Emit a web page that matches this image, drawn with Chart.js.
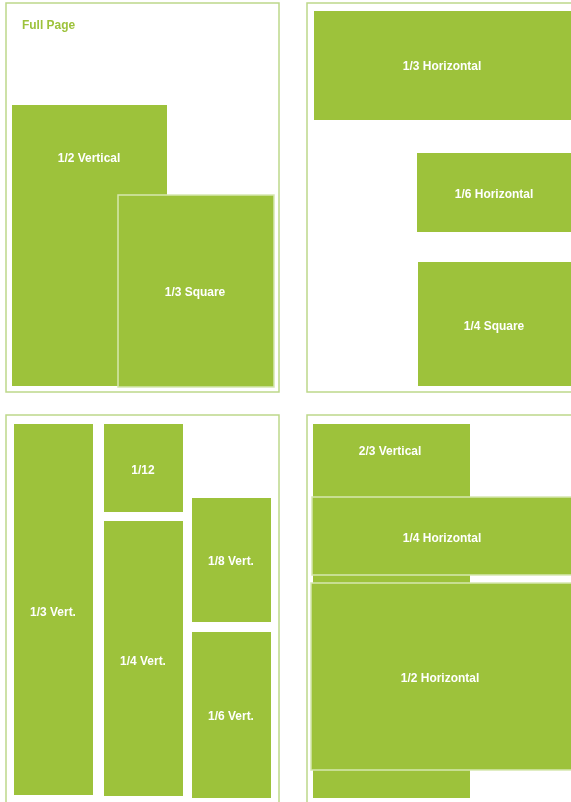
<!DOCTYPE html>
<html>
<head>
  <title>index</title>
  <script src="https://cdn.jsdelivr.net/npm/chart.js"></script>
  <style>
    html, body { margin: 0; padding: 0; background: #ffffff; overflow: hidden; }
    #chart { display: block; }
  </style>
</head>
<body>
  <canvas id="chart" width="571" height="802"></canvas>

  <script>
    // four page frames (left, right, top, bottom) in sheet units
    const pageLeft   = [6, 307, 6, 307];
    const pageRight  = [279, 620, 279, 620];
    const pageTop    = [3, 3, 415, 415];
    const pageBottom = [392, 392, 840, 840];

    // ad units, in drawing order
    const adLabels = ['1/2 Vertical', '1/3 Square', '1/3 Horizontal', '1/6 Horizontal', '1/4 Square',
                      '1/3 Vert.', '1/12', '1/4 Vert.', '1/8 Vert.', '1/6 Vert.',
                      '2/3 Vertical', '1/4 Horizontal', '1/2 Horizontal'];
    const adLeft   = [12, 118, 314, 417, 418, 14, 104, 104, 192, 192, 313, 312, 311];
    const adRight  = [167, 274, 580, 580, 580, 93, 183, 183, 271, 271, 470, 580, 580];
    const adTop    = [105, 195, 11, 153, 262, 424, 424, 521, 498, 632, 424, 497, 583];
    const adBottom = [386, 387, 120, 232, 386, 795, 512, 796, 622, 798, 798, 575, 770];
    const labelX   = [89, 195, 442, 494, 494, 53, 143, 143, 231, 231, 390, 442, 440];
    const labelY   = [157, 291, 65, 193, 325, 611, 469, 660, 560, 715, 450, 537, 677];

    const outlined = ['1/3 Square', '1/4 Horizontal', '1/2 Horizontal'];

    const green = '#9dc23b';
    const labelFont = 'bold 13px "Liberation Sans", Arial, sans-serif';

    // condensed bold text: draw with a slight horizontal squeeze
    function drawLabel(ctx, text, px, py, align) {
      ctx.save();
      ctx.translate(px, py);
      ctx.scale(0.92, 1);
      ctx.font = labelFont;
      ctx.textAlign = align;
      ctx.textBaseline = 'middle';
      ctx.fillText(text, 0, 1.5);
      ctx.restore();
    }

    const adPlugin = {
      id: 'adUnits',
      afterDatasetsDraw(chart) {
        const { ctx, scales: { x, y } } = chart;
        ctx.save();

        // page frames
        ctx.strokeStyle = '#bdd88a';
        ctx.lineWidth = 1.5;
        pageLeft.forEach((l, i) => {
          const x0 = x.getPixelForValue(l), x1 = x.getPixelForValue(pageRight[i]);
          const y0 = y.getPixelForValue(pageTop[i]), y1 = y.getPixelForValue(pageBottom[i]);
          ctx.strokeRect(x0, y0, x1 - x0, y1 - y0);
        });

        // ad blocks
        adLabels.forEach((label, i) => {
          const x0 = x.getPixelForValue(adLeft[i]), x1 = x.getPixelForValue(adRight[i]);
          const y0 = y.getPixelForValue(adTop[i]), y1 = y.getPixelForValue(adBottom[i]);
          ctx.fillStyle = green;
          ctx.fillRect(x0, y0, x1 - x0, y1 - y0);
          if (outlined.includes(label)) {
            ctx.strokeStyle = '#d6e8b0';
            ctx.lineWidth = 1.5;
            ctx.strokeRect(x0, y0, x1 - x0, y1 - y0);
          }
          ctx.fillStyle = '#ffffff';
          drawLabel(ctx, label, x.getPixelForValue(labelX[i]), y.getPixelForValue(labelY[i]), 'center');
        });

        // title of the first frame
        ctx.fillStyle = green;
        drawLabel(ctx, 'Full Page', x.getPixelForValue(22), y.getPixelForValue(24), 'left');

        ctx.restore();
      }
    };

    new Chart(document.getElementById('chart'), {
      type: 'scatter',
      data: { datasets: [{ data: [], pointRadius: 0 }] },
      options: {
        responsive: false,
        animation: false,
        layout: { padding: 0 },
        plugins: { legend: { display: false }, tooltip: { enabled: false } },
        scales: {
          x: { type: 'linear', min: 0, max: 571, display: false },
          y: { type: 'linear', min: 0, max: 802, reverse: true, display: false }
        }
      },
      plugins: [adPlugin]
    });
  </script>
</body>
</html>
